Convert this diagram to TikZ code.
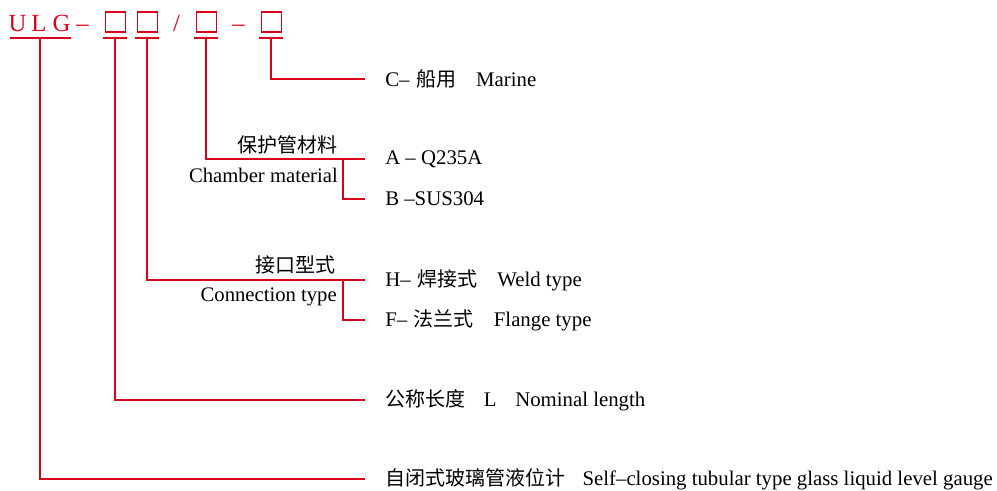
\documentclass[tikz,border=0pt]{standalone}
\usepackage{fontspec}
\setmainfont{Liberation Serif}
\newfontfamily\cjk{Noto Sans CJK SC}
\newcommand{\zhtxt}[1]{{\cjk\fontsize{15}{18}\selectfont #1}}
\definecolor{codered}{RGB}{218,0,28}
\begin{document}
\begin{tikzpicture}[x=0.75pt,y=-0.75pt,
  lead/.style={draw=codered,line width=2.2pt},
  codeletter/.style={text=codered,font=\fontsize{18.5}{20}\selectfont,inner sep=0pt,anchor=base},
  codebox/.style={draw=codered,line width=0.8pt,minimum width=15.5pt,minimum height=15pt,inner sep=0pt},
  lbl/.style={font=\fontsize{15.6}{18}\selectfont,inner sep=0pt,anchor=west},
  sidelbl/.style={font=\fontsize{15.5}{18}\selectfont,inner sep=0pt,anchor=east}]
\useasboundingbox (0,0) rectangle (997,490);
% code line
\node[codeletter] (cu) at (17.5,31) {U};
\node[codeletter] (cl) at (39,31) {L};
\node[codeletter] (cg) at (61.5,31) {G};
\node[codeletter] (d1) at (82.5,31) {–};
\node[codebox] (b1) at (115.5,22) {};
\node[codebox] (b2) at (147.5,22) {};
\node[codeletter] (sl) at (176.5,31) {/};
\node[codebox] (b3) at (206.5,22) {};
\node[codeletter] (d2) at (238.5,31) {–};
\node[codebox] (b4) at (271.5,22) {};
% underlines
\coordinate (u0a) at (10,38); \coordinate (u0b) at (71,38); \coordinate (j0) at (40,38);
\coordinate (u1a) at (103,38); \coordinate (u1b) at (127,38); \coordinate (j1) at (115,38);
\coordinate (u2a) at (135,38); \coordinate (u2b) at (159,38); \coordinate (j2) at (147,38);
\coordinate (u3a) at (194,38); \coordinate (u3b) at (218,38); \coordinate (j3) at (206,38);
\coordinate (u4a) at (259,38); \coordinate (u4b) at (283,38); \coordinate (j4) at (271,38);
\foreach \i in {0,...,4} {\draw[lead] (u\i a) -- (u\i b);}
% right labels
\node[lbl] (t4) at (385,79) {C–\hspace{5pt}\zhtxt{船用}\hspace{15pt}Marine};
\node[lbl] (t3a) at (385,159) {A – Q235A};
\node[lbl] (t3b) at (385,199) {B –SUS304};
\node[lbl] (t2a) at (385,280) {H–\hspace{5pt}\zhtxt{焊接式}\hspace{15pt}Weld type};
\node[lbl] (t2b) at (385,320) {F–\hspace{5pt}\zhtxt{法兰式}\hspace{15pt}Flange type};
\node[lbl] (t1) at (385,400) {\zhtxt{公称长度}\hspace{14pt}L\hspace{14pt}Nominal length};
\node[lbl] (t0) at (385,479) {\zhtxt{自闭式玻璃管液位计}\hspace{13pt}Self–closing tubular type glass liquid level gauge};
% side labels
\node[sidelbl] (s3a) at (338,145) {\zhtxt{保护管材料}};
\node[sidelbl] (s3b) at (338,175) {Chamber material};
\node[sidelbl] (s2a) at (336,265) {\zhtxt{接口型式}};
\node[sidelbl] (s2b) at (337,297) {Connection type};
% connectors
\draw[lead] (j4) |- ([xshift=-15pt]t4.west);
\draw[lead] (j3) |- ([xshift=-15pt]t3a.west);
\coordinate (k3) at (343,159);
\draw[lead] (k3) |- ([xshift=-15pt]t3b.west);
\draw[lead] (j2) |- ([xshift=-15pt]t2a.west);
\coordinate (k2) at (343,280);
\draw[lead] (k2) |- ([xshift=-15pt]t2b.west);
\draw[lead] (j1) |- ([xshift=-15pt]t1.west);
\draw[lead] (j0) |- ([xshift=-15pt]t0.west);
\end{tikzpicture}
\end{document}
